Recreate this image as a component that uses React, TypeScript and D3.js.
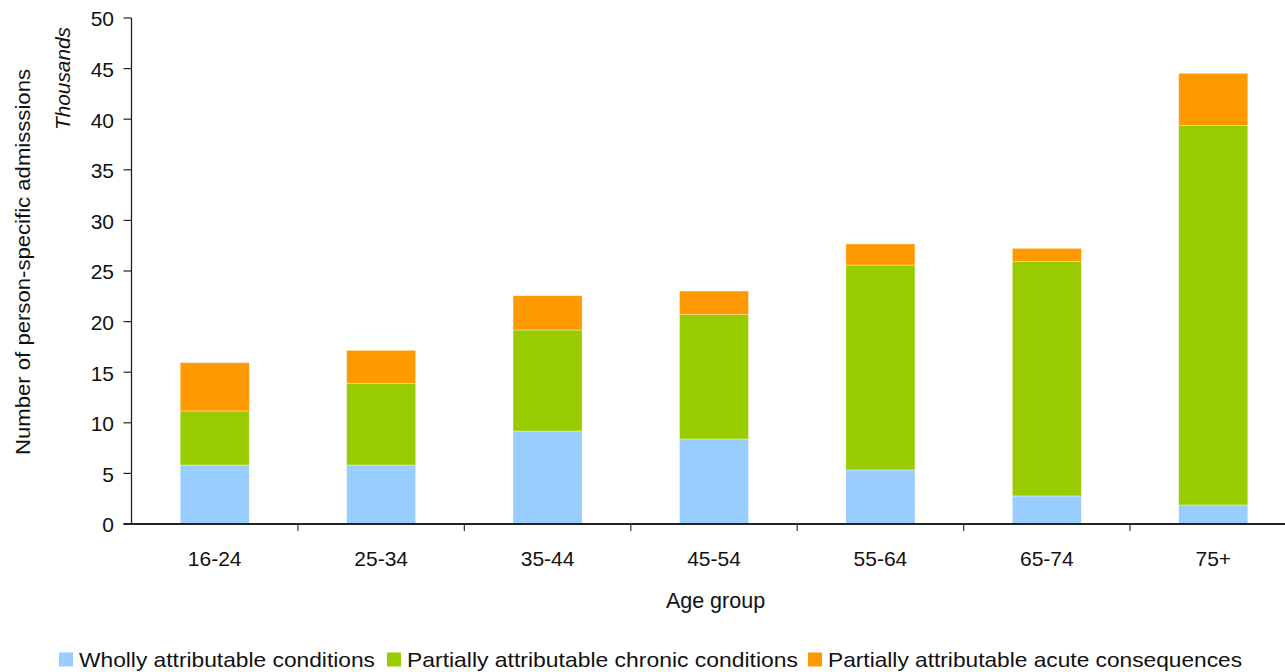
import React from "react";
import * as d3 from "d3";

const ageGroups = ["16-24", "25-34", "35-44", "45-54", "55-64", "65-74", "75+"];
const wholly = [5.83, 5.83, 9.19, 8.4, 5.34, 2.77, 1.88];
const chronic = [5.34, 8.04, 9.98, 12.28, 20.25, 23.15, 37.48];
const acute = [4.77, 3.29, 3.39, 2.34, 2.08, 1.32, 5.17];
const yTicks = [0, 5, 10, 15, 20, 25, 30, 35, 40, 45, 50];
const seriesNames = [
  "Wholly attributable conditions",
  "Partially attributable chronic conditions",
  "Partially attributable acute consequences",
];
const seriesColors = ["#99CCFF", "#99CC00", "#FF9900"];

const W = 1285;
const H = 672;
const left = 131.5;
const right = 1296.5;
const top = 18;
const bottom = 524;
const font = "'Liberation Sans', Arial, sans-serif";
const fs = 21;

export default function App() {
  const x = d3.scaleBand<string>().domain(ageGroups).range([left, right]).paddingInner(0.585).paddingOuter(0.2925);
  const y = d3.scaleLinear().domain([0, 50]).range([bottom, top]);

  const rows = ageGroups.map((g, i) => ({ g, wholly: wholly[i], chronic: chronic[i], acute: acute[i] }));
  const stacked = d3.stack<any>().keys(["wholly", "chronic", "acute"])(rows);

  const step = (right - left) / ageGroups.length;
  const catTicks = d3.range(1, ageGroups.length).map((i) => left + i * step);

  const legendItems = [
    { sx: 59, tx: 79, tw: 296 },
    { sx: 387, tx: 407, tw: 391 },
    { sx: 808, tx: 828, tw: 414 },
  ];

  return (
    <svg width={W} height={H} style={{ position: "absolute", left: 0, top: 0, background: "#fff" }} fontFamily={font}>
      <rect x={0} y={0} width={W} height={H} fill="#fff" />
      {stacked.map((layer, si) =>
        layer.map((d, i) => (
          <rect
            key={`${si}-${i}`}
            x={x(ageGroups[i])!}
            y={y(d[1])}
            width={x.bandwidth()}
            height={y(d[0]) - y(d[1])}
            fill={seriesColors[si]}
            stroke="#ffffff"
            strokeOpacity={0.6}
            strokeWidth={0.6}
          />
        ))
      )}
      {/* y axis */}
      <line x1={left} x2={left} y1={top} y2={bottom} stroke="#222" strokeWidth={1.3} />
      {yTicks.map((t) => (
        <g key={t}>
          <line x1={left - 8} x2={left} y1={y(t)} y2={y(t)} stroke="#222" strokeWidth={1.2} />
          <text x={114} y={y(t)} dy="0.4em" textAnchor="end" fontSize={fs} fill="#111">
            {t}
          </text>
        </g>
      ))}
      {/* x axis */}
      <line x1={left - 8} x2={W} y1={bottom} y2={bottom} stroke="#222" strokeWidth={2} />
      {catTicks.map((t, i) => (
        <line key={i} x1={t} x2={t} y1={bottom} y2={bottom + 7} stroke="#333" strokeWidth={1.2} />
      ))}
      {ageGroups.map((g) => (
        <text key={g} x={x(g)! + x.bandwidth() / 2} y={565.5} textAnchor="middle" fontSize={fs} fill="#111">
          {g}
        </text>
      ))}
      <text x={715.5} y={608} textAnchor="middle" fontSize={21.5} fill="#111">
        Age group
      </text>
      <text
        transform="translate(30,262) rotate(-90)"
        textAnchor="middle"
        fontSize={fs}
        textLength={386}
        lengthAdjust="spacingAndGlyphs"
        fill="#111"
      >
        Number of person-specific admisssions
      </text>
      <text
        transform="translate(70,78.5) rotate(-90)"
        textAnchor="middle"
        fontSize={fs}
        fontStyle="italic"
        textLength={103}
        lengthAdjust="spacingAndGlyphs"
        fill="#111"
      >
        Thousands
      </text>
      {seriesNames.map((n, i) => (
        <g key={n}>
          <rect x={legendItems[i].sx} y={652.5} width={14} height={14} fill={seriesColors[i]} />
          <text x={legendItems[i].tx} y={666.5} fontSize={fs} textLength={legendItems[i].tw} lengthAdjust="spacingAndGlyphs" fill="#111">
            {n}
          </text>
        </g>
      ))}
    </svg>
  );
}
